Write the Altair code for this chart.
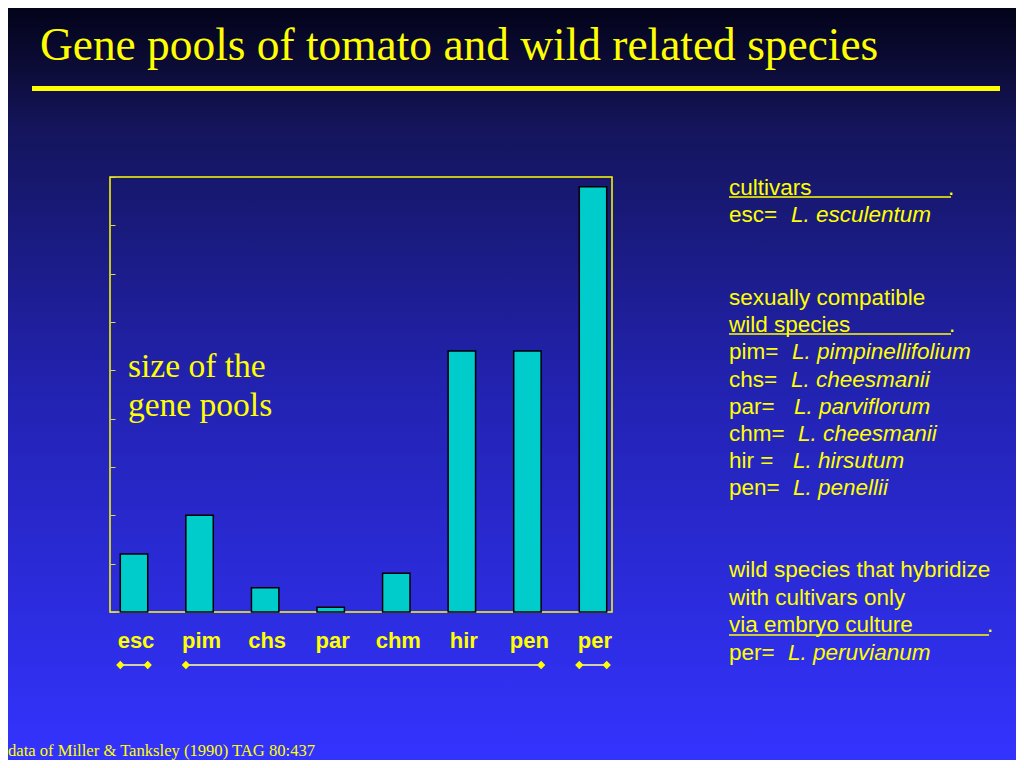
import altair as alt
import pandas as pd

# ---------------- data ----------------
categories = ["esc", "pim", "chs", "par", "chm", "hir", "pen", "per"]
pool_sizes = [1.2, 2.0, 0.5, 0.1, 0.8, 5.4, 5.4, 8.8]

group_start = ["esc", "pim", "per"]
group_end = ["esc", "pen", "per"]

title_text = "Gene pools of tomato and wild related species"
caption_lines = ["size of the", "gene pools"]
source_text = "data of Miller & Tanksley (1990) TAG 80:437"

legend_plain = ["cultivars", "esc=", "sexually compatible", "wild species", "pim=", "chs=",
                "par=", "chm=", "hir =", "pen=", "wild species that hybridize",
                "with cultivars only", "via embryo culture", "per="]
legend_italic = ["", "L. esculentum", "", "", "L. pimpinellifolium", "L. cheesmanii",
                 "L. parviflorum", "L. cheesmanii", "L. hirsutum", "L. penellii", "", "",
                 "", "L. peruvianum"]

# ---------------- layout (page pixels -> view pixels) ----------------
VX, VY = 110, 177          # page position of plot area
W, H = 502, 435
TOTAL_W, TOTAL_H = 1008, 752
legend_base_y = [195, 222, 305, 332, 359, 386.5, 413.5, 441, 468, 495, 577, 605, 632, 660]
legend_italic_x = [0, 791, 0, 0, 792, 791, 794, 798, 793, 793, 0, 0, 0, 788]
underlines = [(0, 197, 951, 948), (3, 334, 951, 949), (12, 635, 989, 987)]

YELLOW = "#FFFF00"
one = pd.DataFrame({"a": [0]})

layers = []

# background gradient
bg = alt.Chart(one).mark_rect(
    color=alt.Gradient(
        gradient="linear",
        stops=[alt.GradientStop(color="#03031a", offset=0),
               alt.GradientStop(color="#0c0c38", offset=0.08),
               alt.GradientStop(color="#14155c", offset=0.16),
               alt.GradientStop(color="#2222b0", offset=0.5),
               alt.GradientStop(color="#3333ff", offset=1)],
        x1=0, x2=0, y1=0, y2=1)
).encode(x=alt.value(-VX + 8), x2=alt.value(TOTAL_W - VX + 8),
         y=alt.value(-VY + 8), y2=alt.value(TOTAL_H - VY + 8))
layers.append(bg)

# frame
frame = alt.Chart(one).mark_rect(fillOpacity=0, stroke=YELLOW, strokeWidth=1.5).encode(
    x=alt.value(0), x2=alt.value(W), y=alt.value(0), y2=alt.value(H))
layers.append(frame)

xscale = alt.Scale(domain=categories, paddingInner=0.582, paddingOuter=0.119, align=0.66)

df = pd.DataFrame({"cat": categories, "size": pool_sizes})
bars = alt.Chart(df).mark_bar(color="#00CCCC", stroke="black", strokeWidth=1.5).encode(
    x=alt.X("cat:N", scale=xscale, axis=None),
    y=alt.Y("size:Q", scale=alt.Scale(domain=[0, 9], nice=False),
            axis=alt.Axis(title=None, labels=False, domain=False, grid=False, offset=-5,
                          tickSize=5, tickColor="#d8d860", values=list(range(0, 10)),
                          zindex=2)),
)
layers.append(bars)

# category labels
cat_labels = alt.Chart(df).mark_text(
    font="Liberation Sans", fontWeight="bold", fontSize=22, color=YELLOW,
    baseline="alphabetic", align="center", dx=2).encode(
    x=alt.X("cat:N", scale=xscale, axis=None),
    y=alt.value(648 - VY),
    text="cat:N")
layers.append(cat_labels)

gdf = pd.DataFrame({"start": group_start, "end": group_end})
grules = alt.Chart(gdf).mark_rule(color="#d0d0a8", strokeWidth=2).encode(
    x=alt.X("start:N", scale=xscale, axis=None, bandPosition=0),
    x2=alt.X2("end:N", bandPosition=1),
    y=alt.value(665 - VY))
layers.append(grules)
for fld, bp in (("start", 0), ("end", 1)):
    layers.append(alt.Chart(gdf).mark_point(shape="diamond", filled=True, color=YELLOW,
                                            size=70, opacity=1).encode(
        x=alt.X(f"{fld}:N", scale=xscale, axis=None, bandPosition=bp),
        y=alt.value(665 - VY)))

def text_layer(txt, px, py, size, font, style="normal", weight="normal"):
    return alt.Chart(one).mark_text(
        text=txt, align="left", baseline="alphabetic", fontSize=size, font=font,
        fontStyle=style, fontWeight=weight, color=YELLOW).encode(
        x=alt.value(px - VX), y=alt.value(py - VY))

# title and underline
layers.append(text_layer(title_text, 40, 60, 45.4, "Liberation Serif"))
layers.append(alt.Chart(one).mark_rule(color=YELLOW, strokeWidth=5).encode(
    x=alt.value(32 - VX), x2=alt.value(1000 - VX), y=alt.value(88.5 - VY)))

# caption inside plot
layers.append(text_layer(caption_lines[0], 128, 377, 33.5, "Liberation Serif"))
layers.append(text_layer(caption_lines[1], 128, 416, 33.5, "Liberation Serif"))

# legend text
for i, (p, it) in enumerate(zip(legend_plain, legend_italic)):
    layers.append(text_layer(p, 729, legend_base_y[i], 22.5, "Liberation Sans"))
    if it:
        layers.append(text_layer(it, legend_italic_x[i], legend_base_y[i], 22.5,
                                 "Liberation Sans", style="italic"))
for idx, uy, ux2, dotx in underlines:
    layers.append(alt.Chart(one).mark_rule(color=YELLOW, strokeWidth=1.5).encode(
        x=alt.value(729 - VX), x2=alt.value(ux2 - VX), y=alt.value(uy - VY)))
    layers.append(text_layer(".", dotx, legend_base_y[idx], 22.5, "Liberation Sans"))

# source
layers.append(text_layer(source_text, 8, 756, 16.6, "Liberation Serif"))

chart = alt.layer(*layers).properties(
    width=W, height=H,
    padding={"left": VX - 8, "top": VY - 8, "right": TOTAL_W - (VX - 8) - W,
             "bottom": TOTAL_H - (VY - 8) - H},
    autosize=alt.AutoSizeParams(type="none"),
    background="#3333ff",
).configure_view(stroke=None)

chart.save("out.html", embed_options={"renderer": "svg", "actions": False})
